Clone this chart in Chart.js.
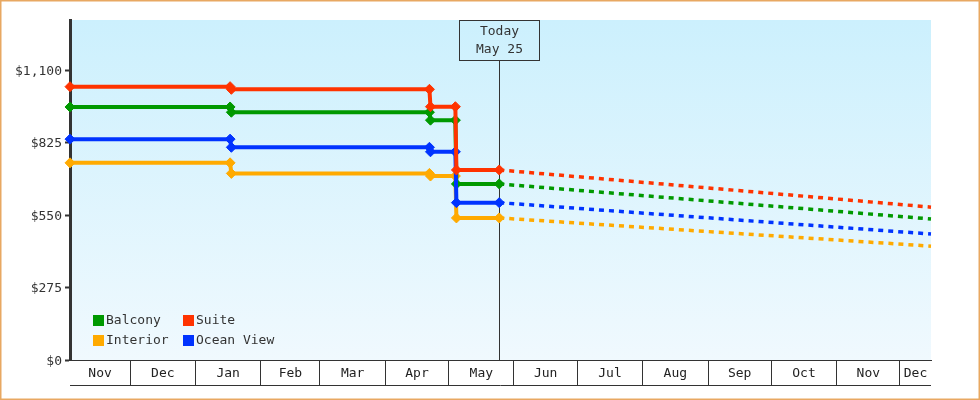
<!DOCTYPE html>
<html>
<head>
<meta charset="utf-8">
<script src="https://cdn.jsdelivr.net/npm/chart.js@4/dist/chart.umd.min.js"></script>
<style>
  html, body { margin: 0; padding: 0; background: #fff; }
  #wrap { width: 980px; height: 400px; }
</style>
</head>
<body>
<div id="wrap"><canvas id="c" width="980" height="400"></canvas></div>
<script>
// x values are days counted from 1 Nov 2024
const monthStarts = [0, 30, 61, 92, 120, 151, 181, 212, 242, 273, 304, 334, 365, 395, 426];
const monthLabels = ['Nov', 'Dec', 'Jan', 'Feb', 'Mar', 'Apr', 'May', 'Jun', 'Jul', 'Aug', 'Sep', 'Oct', 'Nov', 'Dec'];
const xMin = 1.5;
const xMax = 409.7;
const todayDay = 205;
const todayLabel = ['Today', 'May 25'];

const yTicks = [0, 275, 550, 825, 1100];
const yMax = 1290;

const seriesNames = ['Balcony', 'Suite', 'Interior', 'Ocean View'];
const seriesColors = ['#009900', '#ff3300', '#ffaa00', '#0033ff'];

const historyDays = [1.5, 77.4, 78.0, 171.9, 172.4, 184.2, 184.7, 205];
const balcony   = [960, 960, 940, 940, 910, 910, 668, 668];
const suite     = [1037, 1037, 1027, 1027, 961, 961, 721, 721];
const interior  = [748, 748, 708, 708, 698, 698, 539, 539];
const oceanView = [838, 838, 807, 807, 790, 790, 597, 597];

const projDays = [205, 409.7];
const balconyProj   = [668, 535];
const suiteProj     = [721, 580];
const interiorProj  = [539, 432];
const oceanViewProj = [597, 478];

const FONT = '"DejaVu Sans Mono", "Liberation Mono", monospace';
const history = [balcony, suite, interior, oceanView];
const proj = [balconyProj, suiteProj, interiorProj, oceanViewProj];
const drawOrder = [2, 0, 3, 1]; // lower = drawn on top

const pts = (xs, ys) => xs.map((x, i) => ({ x: x, y: ys[i] }));

const datasets = [];
seriesNames.forEach((name, i) => {
  datasets.push({
    label: name,
    data: pts(historyDays, history[i]),
    borderColor: seriesColors[i],
    backgroundColor: seriesColors[i],
    borderWidth: 4,
    pointStyle: 'rectRot',
    pointRadius: 5,
    pointBorderWidth: 1,
    tension: 0,
    clip: false,
    order: drawOrder[i]
  });
});
seriesNames.forEach((name, i) => {
  datasets.push({
    label: name + ' forecast',
    data: pts(projDays, proj[i]),
    borderColor: seriesColors[i],
    backgroundColor: seriesColors[i],
    borderWidth: 3.5,
    borderDash: [5, 5],
    pointRadius: 0,
    tension: 0,
    clip: false,
    order: drawOrder[i] + 10
  });
});

const decor = {
  id: 'decor',
  beforeDraw(chart) {
    const { ctx, chartArea: a } = chart;
    const g = ctx.createLinearGradient(0, a.top, 0, a.bottom);
    g.addColorStop(0, '#ccf0fd');
    g.addColorStop(1, '#f0f9fe');
    ctx.save();
    ctx.fillStyle = g;
    ctx.fillRect(a.left, a.top, a.right - a.left, a.bottom - a.top);
    ctx.restore();
  },
  beforeDatasetsDraw(chart) {
    const { ctx, chartArea: a, scales } = chart;
    const x = Math.round(scales.x.getPixelForValue(todayDay)) + 0.5;
    ctx.save();
    ctx.strokeStyle = '#333';
    ctx.lineWidth = 1;
    ctx.beginPath();
    ctx.moveTo(x, a.top + 40);
    ctx.lineTo(x, a.bottom);
    ctx.stroke();
    ctx.strokeRect(x - 40, a.top + 0.5, 80, 40);
    ctx.fillStyle = '#333';
    ctx.font = '13px ' + FONT;
    ctx.textAlign = 'center';
    ctx.textBaseline = 'middle';
    ctx.fillText(todayLabel[0], x, a.top + 12);
    ctx.fillText(todayLabel[1], x, a.top + 30);
    ctx.restore();
  },
  afterDraw(chart) {
    const { ctx, chartArea: a, scales } = chart;
    const sx = scales.x;
    ctx.save();
    ctx.fillStyle = '#222';
    ctx.font = '13px ' + FONT;
    ctx.textAlign = 'center';
    ctx.textBaseline = 'middle';
    for (let i = 0; i < monthLabels.length; i++) {
      const s = Math.max(monthStarts[i], sx.min);
      const e = Math.min(monthStarts[i + 1], sx.max);
      if (e <= s) continue;
      const px = (sx.getPixelForValue(s) + sx.getPixelForValue(e)) / 2;
      ctx.fillText(monthLabels[i], px, a.bottom + 13.5);
    }
    ctx.strokeStyle = '#333';
    ctx.lineWidth = 1;
    ctx.beginPath();
    ctx.moveTo(a.left, a.bottom + 25.5);
    ctx.lineTo(a.right, a.bottom + 25.5);
    ctx.stroke();
    const lx = [a.left + 23, a.left + 113];
    const ly = [a.bottom - 40, a.bottom - 20];
    seriesNames.forEach((n, i) => {
      const x = lx[i % 2], y = ly[Math.floor(i / 2)];
      ctx.fillStyle = seriesColors[i];
      ctx.fillRect(x, y - 5, 11, 11);
      ctx.fillStyle = '#333';
      ctx.textAlign = 'left';
      ctx.fillText(n, x + 13, y + 1);
    });
    ctx.strokeStyle = '#e8a862';
    ctx.lineWidth = 3;
    ctx.strokeRect(0, 0, chart.width, chart.height);
    ctx.restore();
  }
};

new Chart(document.getElementById('c'), {
  type: 'line',
  data: { datasets: datasets },
  options: {
    responsive: false,
    animation: false,
    devicePixelRatio: 1,
    layout: { padding: { top: 20, right: 49, left: 0, bottom: 0 } },
    plugins: { legend: { display: false }, tooltip: { enabled: false } },
    scales: {
      x: {
        type: 'linear',
        min: xMin,
        max: xMax,
        afterBuildTicks(s) {
          s.ticks = monthStarts.filter(d => d > s.min && d < s.max).map(v => ({ value: v }));
        },
        afterFit(s) { s.height = 40; },
        ticks: { display: false },
        grid: { drawOnChartArea: false, drawTicks: true, tickLength: 25, color: '#333', lineWidth: 1 },
        border: { display: true, color: '#333', width: 1 }
      },
      y: {
        min: 0,
        max: yMax,
        afterBuildTicks(s) { s.ticks = yTicks.map(v => ({ value: v })); },
        afterFit(s) { s.width = 70; },
        ticks: {
          color: '#333',
          padding: 3,
          labelOffset: 1.5,
          font: { family: FONT, size: 13 },
          callback: v => '$' + Number(v).toLocaleString('en-US')
        },
        grid: { drawOnChartArea: false, drawTicks: true, tickLength: 5, tickWidth: 2, tickColor: '#333' },
        border: { display: true, color: '#333', width: 3 }
      }
    }
  },
  plugins: [decor]
});
</script>
</body>
</html>
